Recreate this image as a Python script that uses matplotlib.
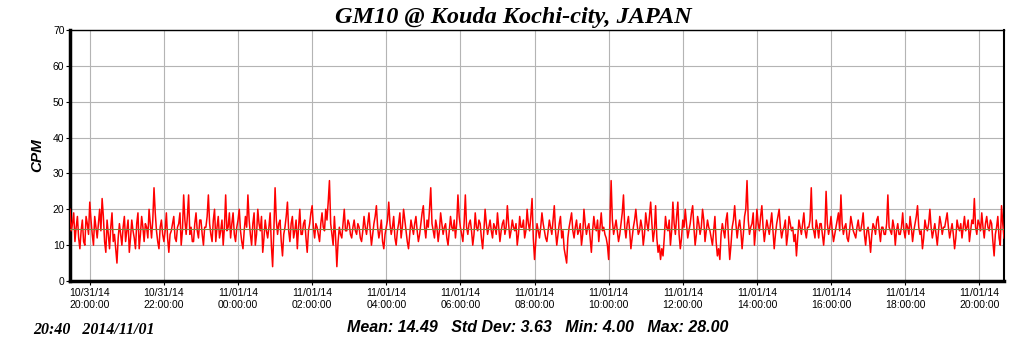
import pandas as pd
import matplotlib
matplotlib.use('Agg')
import matplotlib.pyplot as plt
import matplotlib.dates as mdates

# counts per minute, one reading every 2 minutes
start_time = '2014-10-31 19:28'
step = '2min'
cpm = [
    20, 14, 16, 19, 11, 15, 18, 12, 9, 14, 17, 11, 10, 18, 16, 13, 22, 17, 13, 10,
    18, 15, 12, 16, 20, 14, 23, 18, 11, 8, 17, 13, 9, 15, 19, 11, 13, 9, 5, 12,
    16, 13, 10, 15, 18, 11, 14, 17, 8, 12, 17, 14, 12, 9, 16, 19, 9, 13, 18, 15,
    11, 16, 15, 12, 20, 16, 12, 17, 26, 19, 14, 11, 9, 15, 17, 13, 11, 14, 19, 12,
    8, 13, 14, 16, 18, 12, 11, 15, 16, 19, 10, 14, 24, 17, 13, 18, 24, 13, 15, 11,
    11, 16, 19, 14, 12, 17, 17, 13, 10, 15, 15, 18, 24, 16, 13, 11, 17, 20, 11, 15,
    18, 12, 14, 17, 10, 15, 24, 14, 15, 19, 12, 16, 19, 13, 11, 15, 17, 20, 14, 11,
    9, 14, 18, 15, 24, 17, 13, 10, 16, 19, 10, 13, 20, 16, 14, 18, 8, 12, 17, 14,
    12, 15, 19, 10, 4, 14, 26, 17, 13, 16, 17, 11, 7, 13, 15, 18, 22, 14, 11, 16,
    18, 12, 14, 17, 9, 15, 20, 13, 13, 16, 17, 12, 8, 14, 16, 19, 21, 15, 12, 16,
    15, 13, 11, 16, 19, 15, 14, 20, 17, 22, 28, 16, 13, 10, 18, 12, 4, 11, 15, 13,
    12, 16, 20, 14, 14, 17, 16, 13, 12, 15, 17, 14, 13, 16, 15, 12, 11, 14, 18, 15,
    13, 16, 19, 14, 10, 13, 16, 18, 21, 15, 12, 14, 17, 11, 9, 13, 15, 17, 22, 16,
    13, 15, 18, 12, 10, 14, 16, 19, 12, 15, 20, 17, 14, 11, 9, 13, 17, 15, 13, 16,
    18, 14, 11, 13, 16, 19, 21, 15, 12, 17, 15, 20, 26, 16, 14, 12, 17, 15, 11, 14,
    19, 16, 13, 15, 16, 12, 10, 14, 18, 15, 14, 17, 12, 16, 24, 18, 15, 13, 11, 16,
    24, 15, 13, 16, 17, 14, 10, 13, 19, 15, 14, 17, 16, 12, 9, 14, 20, 16, 13, 15,
    17, 14, 12, 16, 15, 13, 19, 15, 11, 14, 16, 17, 13, 15, 21, 16, 12, 14, 17, 15,
    14, 16, 10, 13, 18, 15, 15, 17, 12, 14, 20, 16, 14, 18, 23, 12, 6, 11, 16, 14,
    12, 15, 19, 16, 14, 12, 11, 14, 17, 15, 13, 17, 21, 14, 10, 13, 16, 18, 12, 14,
    9, 7, 5, 12, 15, 17, 19, 14, 12, 15, 17, 13, 14, 16, 10, 13, 20, 16, 13, 15,
    16, 12, 8, 14, 18, 15, 14, 17, 11, 15, 19, 14, 15, 13, 12, 10, 6, 16, 28, 17,
    13, 15, 17, 14, 11, 13, 16, 19, 24, 15, 12, 16, 18, 14, 9, 12, 15, 17, 20, 16,
    13, 14, 17, 15, 10, 13, 19, 16, 14, 18, 22, 16, 11, 14, 21, 12, 8, 10, 6, 9,
    7, 12, 18, 15, 14, 17, 10, 14, 22, 16, 13, 18, 22, 13, 9, 12, 17, 15, 20, 16,
    12, 14, 16, 19, 21, 15, 10, 13, 18, 16, 13, 15, 20, 17, 11, 14, 17, 15, 14, 12,
    10, 14, 18, 11, 7, 9, 6, 13, 16, 14, 12, 17, 19, 12, 6, 10, 15, 17, 21, 16,
    12, 15, 17, 14, 9, 13, 18, 20, 28, 17, 13, 15, 16, 19, 10, 14, 20, 16, 14, 18,
    21, 15, 11, 14, 17, 15, 13, 16, 19, 14, 9, 13, 16, 18, 20, 15, 12, 14, 15, 17,
    10, 13, 18, 16, 14, 15, 11, 13, 7, 12, 17, 15, 13, 16, 19, 14, 12, 15, 15, 17,
    26, 15, 14, 12, 17, 15, 12, 16, 16, 13, 10, 14, 25, 16, 13, 15, 18, 14, 11, 13,
    15, 17, 19, 14, 24, 16, 13, 15, 16, 12, 11, 14, 18, 16, 14, 13, 12, 15, 17, 14,
    14, 16, 19, 13, 10, 14, 15, 12, 8, 13, 16, 15, 13, 17, 18, 14, 11, 15, 15, 13,
    13, 16, 24, 15, 14, 13, 17, 15, 10, 14, 16, 13, 13, 15, 19, 14, 12, 16, 15, 13,
    18, 15, 11, 14, 16, 18, 21, 15, 13, 14, 9, 12, 17, 15, 14, 16, 20, 15, 12, 14,
    16, 13, 10, 14, 18, 16, 13, 15, 15, 17, 19, 15, 12, 14, 16, 13, 9, 12, 17, 15,
    14, 16, 12, 15, 18, 14, 15, 17, 11, 14, 17, 16, 23, 15, 13, 17, 16, 14, 19, 15,
    12, 16, 18, 15, 14, 17, 16, 11, 7, 13, 15, 18, 12, 10, 21, 16, 12,
]
mean_cpm = 14.49
title = 'GM10 @ Kouda Kochi-city, JAPAN'
stats_text = 'Mean: 14.49   Std Dev: 3.63   Min: 4.00   Max: 28.00'
stamp_text = '20:40   2014/11/01'

times = pd.date_range(start_time, periods=len(cpm), freq=step)

fig = plt.figure(figsize=(10.24, 3.51), dpi=100)
ax = fig.add_axes([70 / 1024, 70 / 351, 934 / 1024, 251 / 351])

ax.plot(times, cpm, color='#ff0000', lw=1.1, zorder=3)
ax.axhline(mean_cpm, color='#808040', lw=0.8, zorder=4)

ax.set_xlim(times[0], times[-1])
ax.set_ylim(0, 70)
ax.set_yticks(range(0, 71, 10))
ax.xaxis.set_major_locator(mdates.HourLocator(byhour=range(0, 24, 2)))
ax.xaxis.set_major_formatter(mdates.DateFormatter('%m/%d/%y\n%H:%M:%S'))
ax.grid(True, color='#b4b4b4', lw=0.8, zorder=0)

for lab in ax.get_xticklabels() + ax.get_yticklabels():
    lab.set_family('Liberation Sans')
    lab.set_fontsize(7.5)
ax.tick_params(axis='x', length=3, pad=2, width=0.8)
ax.tick_params(axis='y', length=3, pad=1, width=0.8)

ax.spines['left'].set_linewidth(2.5)
ax.spines['bottom'].set_linewidth(2.5)
ax.spines['top'].set_linewidth(1)
ax.spines['right'].set_linewidth(1.5)

ax.set_ylabel('CPM', family='Liberation Sans', fontsize=11, fontweight='bold',
              fontstyle='italic', labelpad=6)

fig.text(0.5017, 1 - 17 / 351, title, ha='center', va='center',
         family='Liberation Serif', fontsize=17.5, fontweight='bold', fontstyle='italic')
fig.text(538 / 1024, 1 - 327 / 351, stats_text, ha='center', va='center',
         family='Liberation Sans', fontsize=11.5, fontweight='bold', fontstyle='italic')
fig.text(33 / 1024, 1 - 330 / 351, stamp_text, ha='left', va='center',
         family='Liberation Serif', fontsize=11.5, fontweight='bold', fontstyle='italic')

fig.savefig('out.png', dpi=100)
